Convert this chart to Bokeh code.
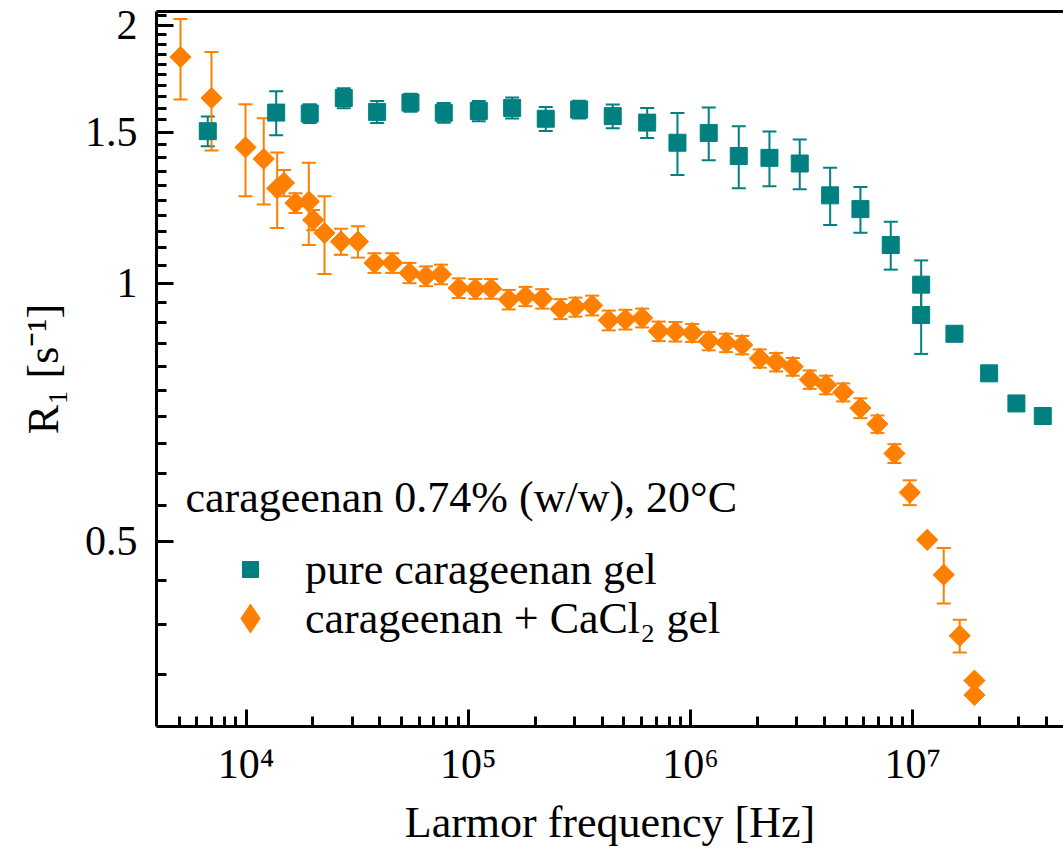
from bokeh.plotting import figure
from bokeh.models import (FixedTicker, LogAxis, ColumnDataSource, Whisker, TeeHead,
                          Legend, LegendItem, Label, Range1d)
from bokeh.embed import file_html
from bokeh.resources import INLINE

# ---------------- data ----------------
teal_f = [6725, 13660, 19340, 27510, 38880, 54890, 77500, 111400, 157400, 222900,
          315100, 446100, 637400, 872300, 1206000, 1646000, 2262000, 3096000, 4242000,
          5805000, 7946000, 10890000, 10890000, 15370000, 22020000, 29210000, 38370000]
teal_r = [1.504, 1.581, 1.577, 1.644, 1.584, 1.624, 1.580, 1.588, 1.601, 1.555,
          1.594, 1.566, 1.539, 1.458, 1.497, 1.407, 1.400, 1.379, 1.266,
          1.220, 1.108, 0.996, 0.918, 0.873, 0.785, 0.724, 0.700]
teal_err = [0.060, 0.093, 0.040, 0.044, 0.047, 0.039, 0.042, 0.043, 0.045, 0.050,
            0.038, 0.050, 0.062, 0.121, 0.106, 0.117, 0.103, 0.092, 0.097,
            0.075, 0.071, 0.067, 0.091, 0.0, 0.0, 0.0, 0.0]

orange_f = [5070, 6990, 9940, 12010, 13800, 14810, 16680, 19150, 20040, 22530,
            26730, 31870, 37810, 45410, 54330, 64480, 75260, 90530, 107600, 126600,
            151900, 180700, 214800, 259600, 303300, 360600, 428100, 508900, 605000, 718600,
            854200, 1016000, 1206000, 1444000, 1705000, 2046000, 2424000, 2880000, 3435000, 4069000,
            4853000, 5805000, 6923000, 8257000, 9674000, 11590000, 13760000, 16240000, 18910000, 18910000]
orange_r = [1.835, 1.644, 1.440, 1.396, 1.290, 1.309, 1.240, 1.245, 1.185, 1.144,
            1.118, 1.118, 1.056, 1.056, 1.028, 1.019, 1.024, 0.987, 0.985, 0.985,
            0.957, 0.965, 0.959, 0.933, 0.938, 0.942, 0.905, 0.907, 0.911, 0.879,
            0.878, 0.875, 0.856, 0.852, 0.847, 0.817, 0.809, 0.799, 0.772, 0.761,
            0.746, 0.715, 0.685, 0.633, 0.570, 0.502, 0.457, 0.388, 0.344, 0.331]
orange_err = [0.197, 0.216, 0.177, 0.161, 0.130, 0.046, 0.033, 0.137, 0.032, 0.119,
              0.039, 0.047, 0.028, 0.028, 0.028, 0.027, 0.027, 0.026, 0.026, 0.026,
              0.025, 0.025, 0.025, 0.025, 0.024, 0.025, 0.024, 0.024, 0.023, 0.023,
              0.023, 0.021, 0.021, 0.021, 0.021, 0.020, 0.020, 0.019, 0.019, 0.019,
              0.018, 0.019, 0.016, 0.016, 0.019, 0.0, 0.034, 0.017, 0.0, 0.0]

x_major = [1e4, 1e5, 1e6, 1e7]
x_labels = ["10\u2074", "10\u2075", "10\u2076", "10\u2077"]
y_major = [0.5, 1.0, 1.5, 2.0]
y_labels = ["0.5", "1", "1.5", "2"]

series_names = ["pure carageenan gel", "carageenan + CaCl\u2082 gel"]
title_text = "carageenan 0.74% (w/w), 20\u00b0C"

TEAL = "#008080"
ORANGE = "#FF8000"
FONT = "Liberation Serif"

# ---------------- figure ----------------
p = figure(width=1063, height=849, x_axis_type="log", y_axis_type="log",
           x_range=Range1d(3954, 4.757e7), y_range=Range1d(0.3041, 2.074),
           output_backend="svg", toolbar_location=None,
           min_border_left=156, min_border_right=0, min_border_top=11, min_border_bottom=121)
p.outline_line_color = None
p.xgrid.visible = False
p.ygrid.visible = False
p.background_fill_color = "white"
p.border_fill_color = "white"

x_minor = [m * 10 ** k for k in range(3, 8) for m in range(2, 10)]
x_minor = [v for v in x_minor if 4.5e3 < v < 4.7e7 and v not in x_major]
y_minor = [round(0.3 + 0.05 * i, 2) for i in range(0, 36)]
y_minor = [v for v in y_minor if 0.31 < v < 2.07 and v not in y_major]

xa = p.xaxis[0]
ya = p.yaxis[0]
xa.ticker = FixedTicker(ticks=x_major, minor_ticks=x_minor)
ya.ticker = FixedTicker(ticks=y_major, minor_ticks=y_minor)
xa.major_label_overrides = {v: t for v, t in zip(x_major, x_labels)}
ya.major_label_overrides = {v: t for v, t in zip(y_major, y_labels)}
xa.axis_label = "Larmor frequency [Hz]"
ya.axis_label = "R\u2081 [s\u207b\u00b9]"
for ax in (xa, ya):
    ax.axis_line_width = 3
    ax.axis_line_color = "black"
    ax.major_tick_line_width = 3
    ax.minor_tick_line_width = 3
    ax.major_tick_in = 17
    ax.major_tick_out = 0
    ax.minor_tick_in = 10
    ax.minor_tick_out = 0
    ax.major_label_text_font = FONT
    ax.major_label_text_font_size = "42px"
    ax.major_label_text_color = "black"
    ax.axis_label_text_font = FONT
    ax.axis_label_text_font_size = "44px"
    ax.axis_label_text_font_style = "normal"
    ax.axis_label_text_color = "black"
xa.major_label_standoff = 14
xa.axis_label_standoff = 8
ya.major_label_standoff = 19
ya.axis_label_standoff = 14

top = LogAxis(ticker=FixedTicker(ticks=[]), axis_line_width=3, axis_line_color="black",
              major_tick_in=0, major_tick_out=0, minor_tick_in=0, minor_tick_out=0,
              major_label_text_font_size="0px")
p.add_layout(top, "above")

# ---------------- error bars ----------------
def bars(f, r, e, color):
    xs = [a for a, c in zip(f, e) if c > 0]
    lo = [b - c for b, c in zip(r, e) if c > 0]
    hi = [b + c for b, c in zip(r, e) if c > 0]
    src = ColumnDataSource(dict(x=xs, lower=lo, upper=hi))
    w = Whisker(source=src, base="x", lower="lower", upper="upper", dimension="height",
                line_color=color, line_width=2, level="underlay",
                upper_head=TeeHead(size=14, line_color=color, line_width=2),
                lower_head=TeeHead(size=14, line_color=color, line_width=2))
    p.add_layout(w)

bars(teal_f, teal_r, teal_err, TEAL)
bars(orange_f, orange_r, orange_err, ORANGE)

r_teal = p.scatter(teal_f, teal_r, marker="square", size=17, fill_color=TEAL, line_color=TEAL)
r_orange = p.scatter(orange_f, orange_r, marker="square", size=15, angle=45, angle_units="deg",
                     fill_color=ORANGE, line_color=ORANGE)
# legend key only (hidden renderer over the same data, drawn as a diamond in the legend)
r_orange_key = p.scatter(orange_f, orange_r, marker="diamond", fill_color=ORANGE,
                         line_color=ORANGE, visible=False)

# ---------------- legend ----------------
p.add_layout(Label(x=29, y=229, x_units="screen", y_units="screen", text=title_text,
                   text_font=FONT, text_font_size="44px", text_color="black",
                   text_baseline="alphabetic"))

common = dict(padding=0, margin=0, spacing=0, border_line_color=None, background_fill_alpha=0,
              label_text_font=FONT, label_text_font_size="44px", label_text_color="black",
              inactive_fill_alpha=0)
leg1 = Legend(items=[LegendItem(label=series_names[0], renderers=[r_teal])],
              location=(74, 122), glyph_width=40, glyph_height=70, label_standoff=35, **common)
leg2 = Legend(items=[LegendItem(label=series_names[1], renderers=[r_orange_key])],
              location=(58, 72), glyph_width=72, glyph_height=72, label_standoff=19, **common)
p.add_layout(leg1)
p.add_layout(leg2)

open("out.html", "w").write(file_html(p, INLINE))
